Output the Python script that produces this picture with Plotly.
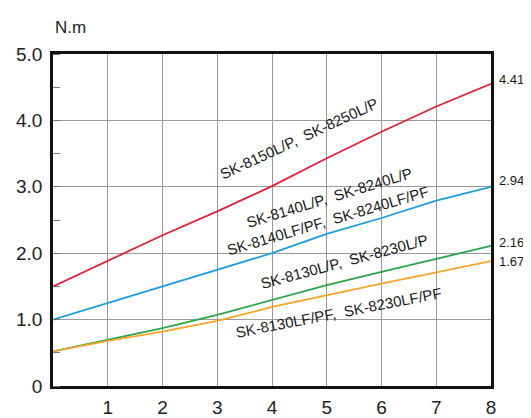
import plotly.graph_objects as go

x_vals = [0, 1, 2, 3, 4, 5, 6, 7, 8]
red_vals = [1.50, 1.89, 2.27, 2.63, 3.01, 3.43, 3.83, 4.21, 4.55]
blue_vals = [1.00, 1.25, 1.49, 1.74, 2.00, 2.29, 2.53, 2.79, 3.00]
green_vals = [0.52, 0.70, 0.87, 1.07, 1.30, 1.52, 1.72, 1.91, 2.11]
orange_vals = [0.52, 0.68, 0.82, 0.98, 1.19, 1.37, 1.54, 1.71, 1.88]

series_names = ["SK-8150L/P, SK-8250L/P", "SK-8140L/P, SK-8240L/P",
                "SK-8130L/P, SK-8230L/P", "SK-8130LF/PF, SK-8230LF/PF"]
series_colors = ["#e0203c", "#1e9ddc", "#2aa54a", "#f5a42a"]
end_labels = ["4.41", "2.94", "2.16", "1.67"]
x_ticks = [1, 2, 3, 4, 5, 6, 7, 8]
y_ticks = [0, 1, 2, 3, 4, 5]
y_ticktext = ["0", "1.0", "2.0", "3.0", "4.0", "5.0"]

FONT = "Liberation Sans, Arial, sans-serif"

# the page body has an ~8px default margin; compensate so the plot lands where the reference's does
OFF = 8
W, H = 531 - OFF, 418 - OFF
pa_l, pa_r, pa_t, pa_b = 53 - OFF, 491 - OFF, 54 - OFF, 386 - OFF

fig = go.Figure()
for vals, name, col in zip([red_vals, blue_vals, green_vals, orange_vals], series_names, series_colors):
    fig.add_trace(go.Scatter(x=x_vals, y=vals, mode="lines", name=name,
                             line=dict(color=col, width=1.8), showlegend=False,
                             hoverinfo="skip"))

# rotated line labels (data coords)
line_labels = [
    ("SK-8150L/P,  SK-8250L/P", 4.49, 3.72, -25),
    ("SK-8140L/P,  SK-8240L/P", 5.04, 2.84, -17),
    ("SK-8140LF/PF,  SK-8240LF/PF", 5.02, 2.50, -16.5),
    ("SK-8130L/P,  SK-8230L/P", 5.31, 1.88, -15),
    ("SK-8130LF/PF,  SK-8230LF/PF", 5.22, 1.11, -11),
]
for txt, xx, yy, ang in line_labels:
    fig.add_annotation(x=xx, y=yy, xref="x", yref="y", text=txt, showarrow=False,
                       textangle=ang, xanchor="center", yanchor="middle",
                       font=dict(family=FONT, size=15, color="#1a1a1a"))

# end value labels
end_pos = [4.61, 3.09, 2.16, 1.87]
for lab, yy in zip(end_labels, end_pos):
    fig.add_annotation(x=8, y=yy, xref="x", yref="y", text=lab, showarrow=False,
                       xanchor="left", yanchor="middle", xshift=6,
                       font=dict(family=FONT, size=13, color="#1a1a1a"))

# unit label
fig.add_annotation(x=(70 - 53) / (491 - 53), y=(386 - 27) / (386 - 54),
                   xref="paper", yref="paper", text="N.m", showarrow=False,
                   xanchor="center", yanchor="middle",
                   font=dict(family=FONT, size=17, color="#222"))

fig.update_layout(
    width=W, height=H,
    margin=dict(l=pa_l, r=W - pa_r, t=pa_t, b=H - pa_b, autoexpand=False),
    paper_bgcolor="white", plot_bgcolor="white",
    font=dict(family=FONT, color="#222"),
    xaxis=dict(range=[0, 8], tickvals=x_ticks, ticktext=[str(v) for v in x_ticks],
               showgrid=True, gridcolor="#9a9a9a", gridwidth=1,
               showline=True, linecolor="#111", linewidth=2.5, mirror=True,
               ticks="", tickfont=dict(size=19, family=FONT), zeroline=False,
               ticklabelstandoff=2, automargin=False),
    yaxis=dict(range=[0, 5], tickvals=y_ticks, ticktext=y_ticktext,
               showgrid=True, gridcolor="#9a9a9a", gridwidth=1,
               showline=True, linecolor="#111", linewidth=2.5, mirror=True,
               ticks="", tickfont=dict(size=19, family=FONT), zeroline=False,
               ticklabelstandoff=4, automargin=False,
               minor=dict(dtick=0.5, ticks="inside", ticklen=7, tickcolor="#777", showgrid=False)),
)

fig.write_html("out.html")
